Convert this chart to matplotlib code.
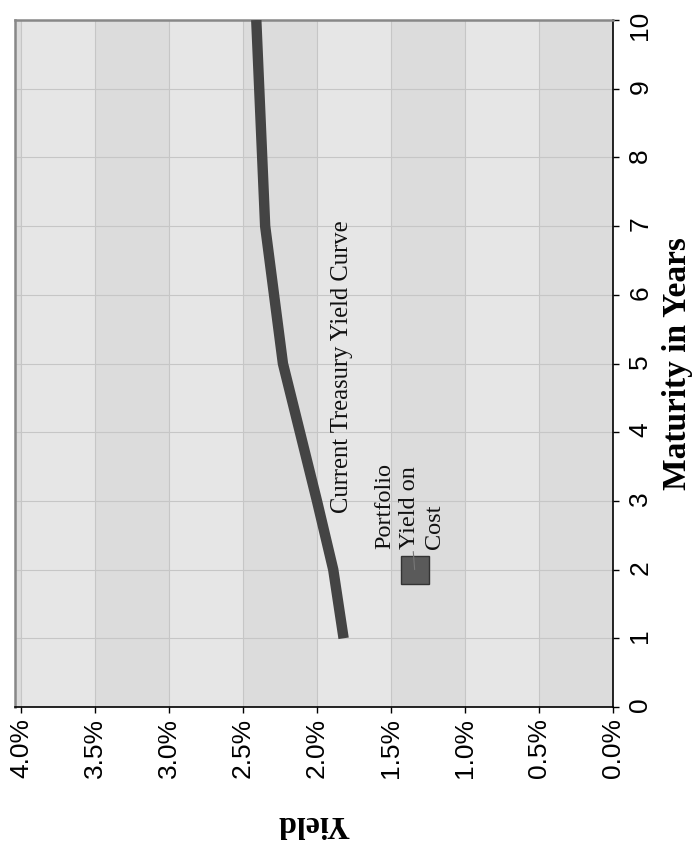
import matplotlib
matplotlib.use("Agg")
import matplotlib.pyplot as plt
from matplotlib.ticker import FuncFormatter

# data (yield in percent, maturity in years)
maturity = [1, 2, 3, 5, 7, 10]
treasury_yield = [1.82, 1.89, 2.00, 2.23, 2.35, 2.41]
portfolio_maturity = [2.0]
portfolio_yield = [1.34]
yield_ticks = [0.0, 0.5, 1.0, 1.5, 2.0, 2.5, 3.0, 3.5, 4.0]
maturity_ticks = list(range(0, 11))

LIGHT = "#e6e6e6"
DARK = "#dcdcdc"
GRID = "#c6c6c6"
LINE = "#444444"
SERIF = ["Liberation Serif", "DejaVu Serif"]

plt.rcParams.update({
    "font.family": ["Liberation Sans", "DejaVu Sans"],
    "font.serif": ["Liberation Serif", "DejaVu Serif"],
})

W, H = 699, 848
fig = plt.figure(figsize=(W / 100, H / 100), dpi=100)
# chart is drawn turned a quarter turn: yield runs right-to-left along x,
# maturity runs bottom-to-top along y
ax = fig.add_axes([15 / W, 1 - 707 / H, (613 - 15) / W, (707 - 20) / H])
ax.set_facecolor(LIGHT)
ax.set_xlim(4.04, 0)
ax.set_ylim(0, 10)

# alternating bands between the yield gridlines
for i, lo in enumerate(yield_ticks):
    if i % 2 == 0:
        ax.axvspan(lo, lo + 0.5, color=DARK, zorder=0, lw=0)

ax.set_xticks(yield_ticks)
ax.set_yticks(maturity_ticks)
ax.grid(True, color=GRID, linewidth=0.8, zorder=1)
ax.set_axisbelow(True)

ax.plot(treasury_yield, maturity, color=LINE, linewidth=7.5,
        solid_capstyle="butt", solid_joinstyle="miter", zorder=3)
ax.plot(portfolio_yield, portfolio_maturity, "s", markersize=20,
        markerfacecolor="#5a5a5a", markeredgecolor="#333333",
        markeredgewidth=1.0, zorder=4)

ax.text(1.83, 2.83, "Current Treasury Yield Curve", rotation=90,
        ha="center", va="bottom", fontsize=17.7, family=SERIF,
        color="#111111", zorder=5)
ax.annotate("Portfolio\nYield on\nCost",
            (portfolio_yield[0], portfolio_maturity[0]),
            xytext=(-3.5, 15), textcoords="offset points",
            rotation=90, ha="center", va="bottom", multialignment="left",
            fontsize=17.5, family=SERIF, color="#111111", linespacing=1.25,
            arrowprops=dict(arrowstyle="-", color="#777777", lw=0.8,
                            shrinkA=0, shrinkB=0), zorder=5)

ax.xaxis.set_major_formatter(FuncFormatter(lambda v, p: f"{v:.1f}%"))
ax.yaxis.tick_right()
ax.yaxis.set_label_position("right")
ax.tick_params(axis="x", direction="out", length=4, width=1, color="black",
               labelsize=19, labelrotation=90, pad=4)
ax.tick_params(axis="y", direction="out", length=4, width=1, color="black",
               labelsize=19, labelrotation=90, pad=7)

for s in ("bottom", "right"):
    ax.spines[s].set_color("black")
    ax.spines[s].set_linewidth(1.2)
for s in ("top", "left"):
    ax.spines[s].set_color("#888888")
    ax.spines[s].set_linewidth(1.8)

ax.set_xlabel("Yield", rotation=180, fontsize=23, fontweight="bold",
              family=SERIF, labelpad=22)
ax.set_ylabel("Maturity in Years", rotation=90, fontsize=24,
              fontweight="bold", family=SERIF, labelpad=7)

fig.savefig("out.png", dpi=100, facecolor="white")
